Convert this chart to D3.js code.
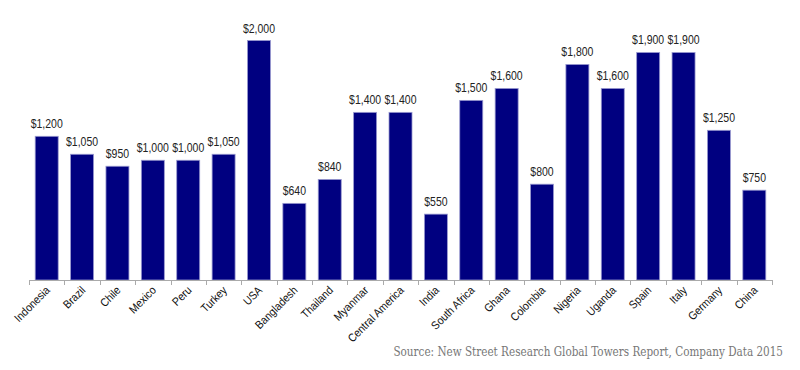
<!DOCTYPE html>
<html>
<head>
<meta charset="UTF-8">
<title>Tower cost by country</title>
<style>
  body { margin: 0; background: #fff; }
  svg { display: block; }
</style>
<script src="https://cdn.jsdelivr.net/npm/d3@7/dist/d3.min.js"></script>
</head>
<body>
<script>
// data
const countries = ["Indonesia", "Brazil", "Chile", "Mexico", "Peru", "Turkey", "USA", "Bangladesh",
  "Thailand", "Myanmar", "Central America", "India", "South Africa", "Ghana", "Colombia",
  "Nigeria", "Uganda", "Spain", "Italy", "Germany", "China"];
const costs = [1200, 1050, 950, 1000, 1000, 1050, 2000, 640, 840, 1400, 1400, 550, 1500, 1600,
  800, 1800, 1600, 1900, 1900, 1250, 750];
const sourceText = "Source: New Street Research Global Towers Report, Company Data 2015";

const width = 800, height = 370;
const svg = d3.select("body").append("svg")
  .attr("width", width)
  .attr("height", height);

const x = d3.scaleBand()
  .domain(countries)
  .range([29, 772])
  .paddingInner(0.35)
  .paddingOuter(0.175);

const y = d3.scaleLinear()
  .domain([0, 2000])
  .range([280, 40.5]);

// bars
svg.selectAll("rect.bar")
  .data(countries)
  .enter().append("rect")
  .attr("class", "bar")
  .attr("x", d => x(d))
  .attr("y", (d, i) => y(costs[i]))
  .attr("width", x.bandwidth())
  .attr("height", (d, i) => y(0) - y(costs[i]))
  .attr("fill", "#000080")
  .attr("stroke", "#9a9ad0")
  .attr("stroke-width", 0.8);

// value labels (narrow look, like the original)
svg.selectAll("text.val")
  .data(countries)
  .enter().append("text")
  .attr("class", "val")
  .attr("transform", (d, i) => `translate(${x(d) + x.bandwidth() / 2},${y(costs[i]) - 8}) scale(0.84,1)`)
  .attr("text-anchor", "middle")
  .attr("font-family", "Liberation Sans, Arial, sans-serif")
  .attr("font-size", 12.5)
  .attr("fill", "#222")
  .text((d, i) => "$" + d3.format(",")(costs[i]));

// axis line + ticks between categories
const ax = svg.append("g").attr("stroke", "#aaa").attr("stroke-width", 1);
ax.append("line")
  .attr("x1", 29).attr("x2", 772)
  .attr("y1", 280.5).attr("y2", 280.5);
const step = x.step();
const tickPos = d3.range(countries.length + 1).map(i => 29 + i * step);
ax.selectAll("line.tick")
  .data(tickPos)
  .enter().append("line")
  .attr("class", "tick")
  .attr("x1", d => Math.round(d) + 0.5).attr("x2", d => Math.round(d) + 0.5)
  .attr("y1", 280).attr("y2", 285);

// category labels
svg.selectAll("text.cat")
  .data(countries)
  .enter().append("text")
  .attr("class", "cat")
  .attr("text-anchor", "end")
  .attr("font-family", "Liberation Sans, Arial, sans-serif")
  .attr("font-size", 11.5)
  .attr("fill", "#111")
  .attr("transform", d => `translate(${x(d) + x.bandwidth() / 2 + 4},${291}) rotate(-45) scale(0.9,1)`)
  .text(d => d);

// source
const src = svg.append("text")
  .attr("text-anchor", "end")
  .attr("font-family", "DejaVu Serif, serif")
  .attr("font-size", 12)
  .attr("fill", "#777")
  .text(sourceText);
const natural = src.node().getComputedTextLength();
src.attr("transform", `translate(783,356) scale(${390 / natural},1)`);
</script>
</body>
</html>
